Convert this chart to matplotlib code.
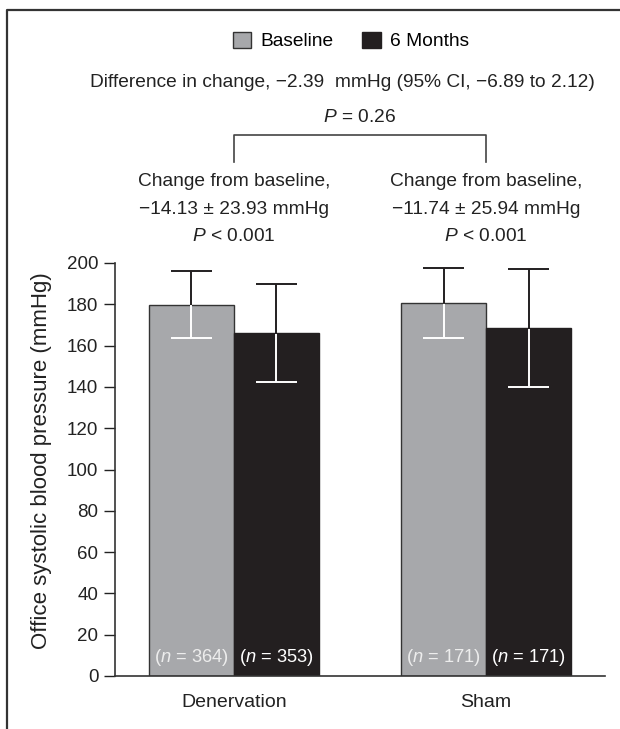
import matplotlib
matplotlib.use("Agg")
import matplotlib.pyplot as plt
from matplotlib.lines import Line2D
from matplotlib.patches import Patch
import numpy as np

plt.rcParams['font.family'] = ['Liberation Sans', 'DejaVu Sans']
plt.rcParams['mathtext.fontset'] = 'custom'
plt.rcParams['mathtext.rm'] = 'Liberation Sans'
plt.rcParams['mathtext.it'] = 'Liberation Sans:italic'

# ---- data ----
groups = ["Denervation", "Sham"]
series = ["Baseline", "6 Months"]
baseline_mean = [179.9, 180.7]
baseline_sd = [16.2, 16.8]
month6_mean = [166.0, 168.6]
month6_sd = [23.7, 28.5]
baseline_n = [364, 171]
month6_n = [353, 171]
change_text = ["\u221214.13 \u00b1 23.93 mmHg", "\u221211.74 \u00b1 25.94 mmHg"]
yticks = [0, 20, 40, 60, 80, 100, 120, 140, 160, 180, 200]

grey = "#a7a8ab"
black = "#231f20"
edge = "#333333"
txt = "#222222"
FS = 13.8

fig = plt.figure(figsize=(6.2, 7.29), dpi=100)
ax = fig.add_axes([115/620, 53/729, (605-115)/620, (676-263)/729])

x = np.arange(len(groups))
w = 0.337
xb = x - w/2
xm = x + w/2
ax.bar(xb, baseline_mean, width=w, color=grey, edgecolor=edge, linewidth=1.0, zorder=2)
ax.bar(xm, month6_mean, width=w, color=black, edgecolor=black, linewidth=1.0, zorder=2)

capw = 0.083  # half cap width in data units
lw = 1.4
for xs, means, sds in [(xb, baseline_mean, baseline_sd), (xm, month6_mean, month6_sd)]:
    for xi, m, s in zip(xs, means, sds):
        ax.vlines(xi, m, m + s, color=black, lw=lw, zorder=3)
        ax.hlines(m + s, xi - capw, xi + capw, color=black, lw=lw, zorder=3)
        ax.vlines(xi, m - s, m - 0.4, color='white', lw=lw, zorder=3)
        ax.hlines(m - s, xi - capw, xi + capw, color='white', lw=lw, zorder=3)

for xi, n in zip(xb, baseline_n):
    ax.text(xi, 9.2, f"($n$ = {n})", ha='center', va='center', color='#ededed', fontsize=13.2, zorder=4)
for xi, n in zip(xm, month6_n):
    ax.text(xi, 9.2, f"($n$ = {n})", ha='center', va='center', color='white', fontsize=13.2, zorder=4)

ax.set_xlim(-0.472, 1.472)
ax.set_ylim(0, 200)
ax.set_yticks(yticks)
ax.set_xticks(x)
ax.set_xticklabels(groups, fontsize=14)
ax.tick_params(axis='x', length=0, pad=13, colors=txt)
ax.tick_params(axis='y', length=8, width=1.0, labelsize=13.5, colors=txt, pad=4)
for sp in ['top', 'right']:
    ax.spines[sp].set_visible(False)
for sp in ['left', 'bottom']:
    ax.spines[sp].set_color(edge)
    ax.spines[sp].set_linewidth(1.2)
ax.set_ylabel("Office systolic blood pressure (mmHg)", fontsize=16, color=txt, va='center')
ax.yaxis.set_label_coords((42 - 115) / 490, (676 - 461) / 413)


def fy(px):
    return 1 - px/729


trans = ax.get_xaxis_transform()


def ay(px):
    return (676 - px) / (676 - 263)


ax.plot([x[0], x[0], x[1], x[1]], [ay(162), ay(135), ay(135), ay(162)],
        transform=trans, color='#444444', lw=1.2, clip_on=False)

for xi, ct in zip(x, change_text):
    ax.text(xi, ay(182), "Change from baseline,", transform=trans, ha='center', va='center', fontsize=FS, color=txt)
    ax.text(xi, ay(209), ct, transform=trans, ha='center', va='center', fontsize=FS, color=txt)
    ax.text(xi, ay(237), "$P$ < 0.001", transform=trans, ha='center', va='center', fontsize=FS, color=txt)

ax.text(0.5, ay(118), "$P$ = 0.26", transform=trans, ha='center', va='center', fontsize=FS, color=txt)
ax.text(0.43, ay(83), "Difference in change, \u22122.39  mmHg (95% CI, \u22126.89 to 2.12)",
        transform=trans, ha='center', va='center', fontsize=FS, color=txt)

handles = [Patch(facecolor=grey, edgecolor=edge, linewidth=1.0),
           Patch(facecolor=black, edgecolor=black, linewidth=1.0)]
fig.legend(handles, series, loc='center', bbox_to_anchor=(351/620, fy(41)), ncol=2, frameon=False,
           fontsize=FS, handlelength=0.95, handleheight=0.95, handletextpad=0.5, columnspacing=1.5)

fig.add_artist(Line2D([7/620, 7/620, 1.0], [0, fy(10), fy(10)], transform=fig.transFigure,
                      color='#333333', lw=1.6))

fig.savefig("out.png", dpi=100)
